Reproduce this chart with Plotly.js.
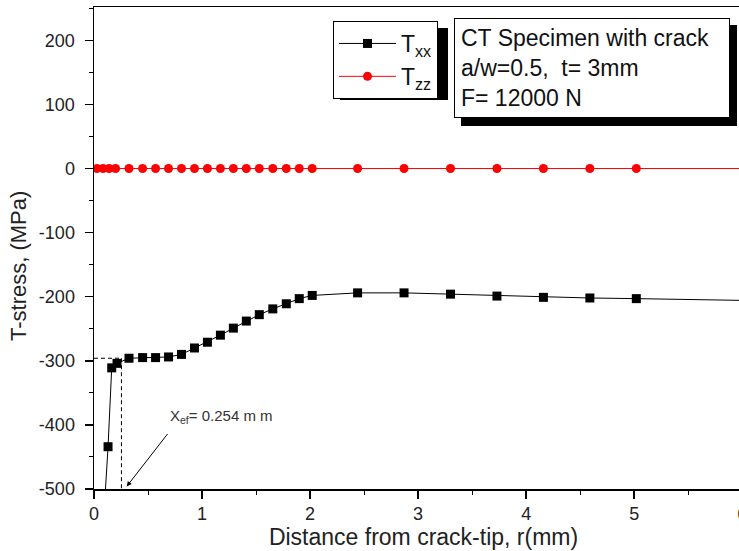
<!DOCTYPE html>
<html>
<head>
<meta charset="utf-8">
<script src="https://cdn.plot.ly/plotly-3.0.1.min.js"></script>
<style>
html,body{margin:0;padding:0;background:#fff;overflow:hidden;width:739px;height:551px;}
#chart{width:760px;height:551px;}
</style>
</head>
<body>
<div id="chart"></div>
<script>
// ---- data ----
var txxR = [0.085, 0.13, 0.164, 0.213, 0.324, 0.45, 0.57, 0.69, 0.81, 0.93, 1.05, 1.17, 1.29, 1.41, 1.53, 1.655, 1.78, 1.9, 2.02, 2.44, 2.87, 3.30, 3.73, 4.16, 4.59, 5.02];
var txxVal = [-560, -434, -311, -304, -296, -295, -295, -294, -290, -280, -271, -260, -249, -238, -228, -219, -211, -203, -198, -194, -194, -196, -199, -201, -202, -203];
var txxTailR = [5.02, 5.52, 6.1];
var txxTailVal = [-203, -204.5, -206];

var tzzR = [0.026, 0.084, 0.14, 0.2, 0.324, 0.45, 0.57, 0.69, 0.81, 0.93, 1.05, 1.17, 1.29, 1.41, 1.53, 1.655, 1.78, 1.9, 2.02, 2.44, 2.87, 3.30, 3.73, 4.16, 4.59, 5.02];
var tzzVal = [0, 0, 0, 0, 0, 0, 0, 0, 0, 0, 0, 0, 0, 0, 0, 0, 0, 0, 0, 0, 0, 0, 0, 0, 0, 0];
var tzzTailR = [5.02, 6.1];
var tzzTailVal = [0, 0];

var xef = 0.254;     // effective distance (mm)
var tef = -296;      // T-stress at x_ef (MPa)

var xTickVals = [0, 1, 2, 3, 4, 5, 6];
var yTickVals = [-500, -400, -300, -200, -100, 0, 100, 200];

var FONT = "Liberation Sans, Arial, sans-serif";

var traces = [
  {x: txxTailR, y: txxTailVal, mode: 'lines', line: {color: '#000', width: 1}, showlegend: false, hoverinfo: 'skip'},
  {x: tzzTailR, y: tzzTailVal, mode: 'lines', line: {color: '#ff0000', width: 1}, showlegend: false, hoverinfo: 'skip'},
  {x: txxR, y: txxVal, name: 'T<sub>xx</sub>', mode: 'lines+markers',
   line: {color: '#000', width: 1}, marker: {symbol: 'square', size: 9, color: '#000'}},
  {x: tzzR, y: tzzVal, name: 'T<sub>zz</sub>', mode: 'lines+markers',
   line: {color: '#ff0000', width: 1}, marker: {symbol: 'circle', size: 9, color: '#ff0000'}}
];

// plot area: left 94px, width 659px, top 7px, height 482px
var L = 94, W = 659, T = 7, H = 482;
function px(xp){ return (xp - L) / W; }
function py(yp){ return (T + H - yp) / H; }

var layout = {
  width: 760, height: 551,
  margin: {l: L, r: 760 - L - W, t: T, b: 551 - T - H},
  paper_bgcolor: '#fff', plot_bgcolor: '#fff',
  font: {family: FONT, color: '#222'},
  showlegend: true,
  xaxis: {
    range: [0, 6.1], tickvals: xTickVals, ticktext: xTickVals.map(String),
    showgrid: false, zeroline: false, showline: true, linecolor: '#000', linewidth: 1.5, mirror: true,
    ticks: 'outside', ticklen: 8, tickwidth: 1.5, tickcolor: '#000',
    minor: {dtick: 0.5, ticks: 'outside', ticklen: 4, tickwidth: 1, tickcolor: '#000', showgrid: false},
    tickfont: {size: 18, family: FONT, color: '#222'},
    title: {text: 'Distance from crack-tip, r(mm)', font: {size: 23, family: FONT, color: '#222'}, standoff: 4}
  },
  yaxis: {
    range: [-500, 252], tickvals: yTickVals, ticktext: yTickVals.map(String),
    showgrid: false, zeroline: false, showline: true, linecolor: '#000', linewidth: 1.5, mirror: true,
    ticks: 'outside', ticklen: 8, tickwidth: 1.5, tickcolor: '#000', ticklabelstandoff: 6,
    minor: {dtick: 50, ticks: 'outside', ticklen: 4, tickwidth: 1, tickcolor: '#000', showgrid: false},
    tickfont: {size: 18, family: FONT, color: '#222'}
  },
  legend: {
    x: px(333), y: py(21), xanchor: 'left', yanchor: 'top',
    bgcolor: '#fff', bordercolor: '#000', borderwidth: 1,
    font: {size: 23, family: FONT, color: '#111'},
    tracegroupgap: 0, itemwidth: 57
  },
  shapes: [
    // dashed guides to x_ef
    {type: 'line', xref: 'x', yref: 'y', x0: 0, x1: xef, y0: tef, y1: tef, line: {color: '#000', width: 1, dash: '4px,3px'}},
    {type: 'line', xref: 'x', yref: 'y', x0: xef, x1: xef, y0: tef, y1: -500, line: {color: '#000', width: 1, dash: '4px,3px'}},
    // legend shadow
    {type: 'rect', xref: 'paper', yref: 'paper', x0: px(340), x1: px(448), y0: py(100), y1: py(28), fillcolor: '#000', line: {width: 0}, layer: 'above'},
    // text box shadow
    {type: 'rect', xref: 'paper', yref: 'paper', x0: px(461), x1: px(737), y0: py(126), y1: py(25), fillcolor: '#000', line: {width: 0}, layer: 'above'}
  ],
  annotations: [
    {xref: 'paper', yref: 'paper', x: px(18), y: py(266), xanchor: 'center', yanchor: 'middle', textangle: -90,
     text: 'T-stress, (MPa)', showarrow: false, font: {size: 22, family: FONT, color: '#222'}},
    {xref: 'paper', yref: 'paper', x: px(454), y: py(18), xanchor: 'left', yanchor: 'top',
     text: 'CT Specimen with crack<br>a/w=0.5,  t= 3mm<br>F= 12000 N', align: 'left', showarrow: false,
     font: {size: 23, family: FONT, color: '#111'}, bgcolor: '#fff', bordercolor: '#000', borderwidth: 1,
     borderpad: 6, width: 262, height: 86, valign: 'middle'},
    {xref: 'x', yref: 'y', x: 0.303, y: -496, ax: 42, ay: -54, showarrow: true,
     arrowhead: 2, arrowsize: 1, arrowwidth: 1, arrowcolor: '#000', text: ''},
    {xref: 'x', yref: 'y', x: 0.685, y: -387, xanchor: 'left', yanchor: 'middle', showarrow: false,
     text: 'X<sub>ef</sub>= 0.254 m m', font: {size: 15, family: FONT, color: '#333'}}
  ]
};

Plotly.newPlot('chart', traces, layout, {displayModeBar: false, staticPlot: true});
</script>
</body>
</html>
